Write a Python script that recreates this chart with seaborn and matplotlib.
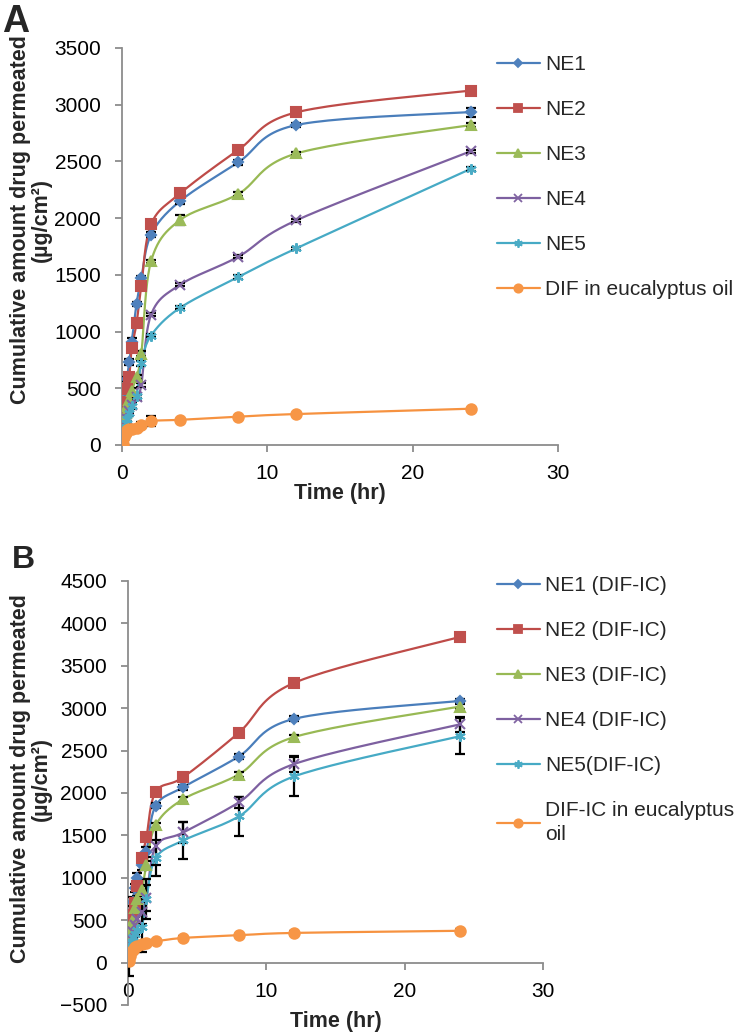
import numpy as np
import seaborn as sns
import matplotlib.pyplot as plt
from matplotlib.lines import Line2D

# sampling times (hr), same for both panels
time_hr = [0.083, 0.167, 0.25, 0.33, 0.5, 0.67, 1, 1.33, 2, 4, 8, 12, 24]

# Panel A - nanoemulsions with DIF
a_labels = ["NE1", "NE2", "NE3", "NE4", "NE5", "DIF in eucalyptus oil"]
a_ne1 = [250, 350, 470, 580, 730, 910, 1243, 1469, 1854, 2151, 2492, 2821, 2935]
a_ne2 = [200, 300, 380, 490, 597, 852, 1073, 1405, 1946, 2218, 2601, 2933, 3125]
a_ne3 = [150, 220, 280, 340, 400, 480, 600, 805, 1620, 1984, 2213, 2570, 2820]
a_ne4 = [60, 120, 180, 230, 300, 350, 420, 530, 1149, 1413, 1660, 1981, 2590]
a_ne5 = [80, 130, 190, 230, 280, 340, 430, 720, 965, 1210, 1481, 1734, 2435]
a_dif = [10, 70, 110, 130, 140, 145, 150, 180, 212, 222, 250, 273, 320]
a_err = [
    [10, 15, 20, 20, 25, 30, 20, 25, 20, 25, 20, 20, 40],
    [15, 20, 20, 20, 25, 20, 15, 20, 15, 20, 15, 15, 15],
    [10, 15, 15, 20, 20, 20, 20, 20, 15, 45, 15, 15, 15],
    [10, 10, 15, 15, 20, 20, 20, 20, 15, 15, 15, 15, 15],
    [10, 10, 15, 15, 20, 20, 20, 20, 15, 15, 15, 15, 15],
    [5, 10, 10, 10, 10, 10, 10, 20, 45, 10, 10, 10, 10],
]

# Panel B - nanoemulsions with DIF-IC
b_labels = ["NE1 (DIF-IC)", "NE2 (DIF-IC)", "NE3 (DIF-IC)", "NE4 (DIF-IC)",
            "NE5(DIF-IC)", "DIF-IC in eucalyptus\noil"]
b_ne1 = [250, 400, 550, 720, 880, 1000, 1150, 1300, 1849, 2069, 2430, 2874, 3085]
b_ne2 = [300, 380, 480, 560, 700, 900, 1233, 1476, 2014, 2187, 2709, 3298, 3840]
b_ne3 = [200, 300, 400, 500, 640, 750, 860, 1154, 1621, 1928, 2218, 2659, 3020]
b_ne4 = [100, 200, 280, 360, 440, 520, 600, 762, 1370, 1535, 1888, 2341, 2810]
b_ne5 = [120, 180, 240, 300, 340, 380, 420, 750, 1233, 1441, 1723, 2195, 2670]
b_dif = [20, 80, 120, 150, 180, 200, 215, 232, 251, 291, 322, 350, 375]
b_err = [
    [40, 40, 50, 50, 50, 60, 60, 60, 30, 30, 30, 30, 20],
    [60, 60, 60, 40, 40, 40, 40, 30, 30, 30, 30, 30, 30],
    [40, 40, 40, 40, 40, 40, 40, 40, 30, 30, 30, 30, 30],
    [260, 100, 100, 100, 120, 120, 150, 150, 215, 120, 60, 90, 90],
    [100, 100, 150, 150, 200, 250, 300, 230, 210, 220, 225, 225, 210],
    [20, 20, 20, 30, 30, 30, 30, 30, 20, 20, 20, 20, 20],
]

line_colors = ["#4A7EBB", "#BE4B48", "#98B954", "#7D60A0", "#46AAC5", "#F69240"]
marker_colors = ["#4F81BD", "#C0504D", "#9BBB59", "#8064A2", "#4BACC6", "#F79646"]
markers = ["D", "s", "^", "x", (6, 2, 0), "o"]
marker_sizes = [5.5, 7.5, 7.5, 6.5, 7.5, 7.5]


def smooth_curve(xs, ys, sx, sy, n=25):
    """Excel-like smoothed line (bezier through the points), worked out in pixel space"""
    P = np.column_stack([np.asarray(xs, float) / sx, np.asarray(ys, float) / sy])
    E = np.vstack([P[0], P, P[-1]])
    s = np.linspace(0, 1, n)[1:][:, None]
    out = [P[:1]]
    for i in range(len(P) - 1):
        p0, p1, p2, p3 = E[i], E[i + 1], E[i + 2], E[i + 3]
        c1 = p1 + (p2 - p0) / 6
        c2 = p2 - (p3 - p1) / 6
        seg = (1 - s) ** 3 * p1 + 3 * (1 - s) ** 2 * s * c1 + 3 * (1 - s) * s ** 2 * c2 + s ** 3 * p2
        out.append(seg)
    Q = np.vstack(out)
    return Q[:, 0] * sx, Q[:, 1] * sy


def draw_panel(ax, series, errs, sx, sy):
    for i, vals in enumerate(series):
        xs, ys = smooth_curve(time_hr, vals, sx, sy)
        sns.lineplot(x=xs, y=ys, ax=ax, sort=False, estimator=None,
                     color=line_colors[i], lw=1.6, zorder=2)
    for i, vals in enumerate(series):
        ax.errorbar(time_hr, vals, yerr=errs[i], fmt="none", ecolor="black",
                    elinewidth=1.6, capsize=3.5, capthick=1.6, zorder=3)
    for i, vals in enumerate(series):
        sns.lineplot(x=time_hr, y=vals, ax=ax, estimator=None, linestyle="",
                     marker=markers[i], markersize=marker_sizes[i],
                     color=marker_colors[i], markeredgecolor=marker_colors[i],
                     markeredgewidth=1.5, zorder=4)
    handles = [Line2D([], [], color=line_colors[i], lw=1.6, marker=markers[i],
                      markersize=marker_sizes[i] * 0.8, markerfacecolor=marker_colors[i],
                      markeredgecolor=marker_colors[i], markeredgewidth=1.3)
               for i in range(len(series))]
    return handles


sns.set_theme(style="ticks")
plt.rcParams["font.family"] = ["Liberation Sans", "DejaVu Sans"]

W, H = 735, 1036
fig = plt.figure(figsize=(W / 100, H / 100), dpi=100)
axA = fig.add_axes([122 / W, 1 - 445 / H, (558 - 122) / W, (445 - 48) / H])
axB = fig.add_axes([128 / W, 1 - 1005 / H, (543 - 128) / W, (1005 - 581) / H])

hA = draw_panel(axA, [a_ne1, a_ne2, a_ne3, a_ne4, a_ne5, a_dif], a_err, 30 / 436, 3500 / 397)
hB = draw_panel(axB, [b_ne1, b_ne2, b_ne3, b_ne4, b_ne5, b_dif], b_err, 30 / 415, 5000 / 424)

axA.set_xlim(0, 30)
axA.set_ylim(0, 3500)
axA.set_yticks(np.arange(0, 3501, 500))
axB.set_xlim(0, 30)
axB.set_ylim(-500, 4500)
axB.set_yticks(np.arange(-500, 4501, 500))
axB.spines["bottom"].set_position(("data", 0))

ylab = "Cumulative amount drug permeated\n(µg/cm²)"
for ax in (axA, axB):
    ax.set_xticks([0, 10, 20, 30])
    for side in ("top", "right"):
        ax.spines[side].set_visible(False)
    for side in ("left", "bottom"):
        ax.spines[side].set_color("#8C8C8C")
        ax.spines[side].set_linewidth(1.3)
    ax.tick_params(axis="both", colors="#8C8C8C", labelcolor="black", labelsize=15,
                   length=5, width=1.3)
    ax.tick_params(axis="y", pad=10)
    ax.tick_params(axis="x", pad=9)
    ax.set_xlabel("Time (hr)", fontsize=15.5, fontweight="bold", va="center")
    ax.set_ylabel(ylab, fontsize=15.5, fontweight="bold", va="center", linespacing=1.0)

axA.yaxis.set_label_coords((31 - 122) / 436, (445 - 220) / 397)
axA.xaxis.set_label_coords(0.5, -(493 - 445) / 397)
axB.yaxis.set_label_coords((31 - 128) / 415, (1005 - 779) / 424)
axB.xaxis.set_label_coords(0.5, -(1022 - 1005) / 424)

leg_kw = dict(loc="upper left", frameon=False, fontsize=15, handlelength=2.05,
              handletextpad=0.25, labelspacing=1.25, borderpad=0, borderaxespad=0)
fig.legend(hA, a_labels, bbox_to_anchor=(497 / W, 1 - 55 / H), **leg_kw)
legB = fig.legend(hB, b_labels, bbox_to_anchor=(497 / W, 1 - 576 / H), **leg_kw)
legB.get_texts()[-1].set_linespacing(1.35)

fig.text(2 / W, 1 - 4 / H, "A", fontsize=27, fontweight="bold", va="top", ha="left")
fig.text(12 / W, 1 - 545 / H, "B", fontsize=23, fontweight="bold", va="top", ha="left")

fig.savefig("out.png", dpi=100)
